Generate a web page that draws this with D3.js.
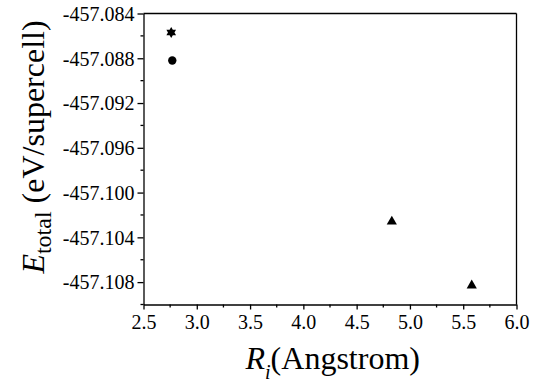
<!DOCTYPE html>
<meta charset="utf-8">
<script src="https://d3js.org/d3.v7.min.js"></script>
<body style="margin:0">
<script>
// data
var starR = [2.76], starE = [-457.0857];
var circleR = [2.77], circleE = [-457.0882];
var triR = [4.83, 5.58], triE = [-457.1026, -457.1083];

var xTicks = [2.5, 3.0, 3.5, 4.0, 4.5, 5.0, 5.5, 6.0];
var yTicks = [-457.084, -457.088, -457.092, -457.096, -457.100, -457.104, -457.108];

var FONT = "serif";

var W = 543, H = 390;
var margin = { top: 13.5, right: 26.5, bottom: 85.5, left: 143.5 },
    width = W - margin.left - margin.right,
    height = H - margin.top - margin.bottom;

var root = d3.select("body")
  .append("svg")
  .attr("width", W)
  .attr("height", H);

var svg = root.append("g")
  .attr("transform", "translate(" + margin.left + "," + margin.top + ")");

var x = d3.scaleLinear().domain([2.5, 6.0]).range([0, width]);
var y = d3.scaleLinear().domain([-457.110, -457.084]).range([height, 0]);

// one run of text at (px, py); returns its width
function run(parent, str, px, py, size, opts) {
  opts = opts || {};
  var t = parent.append("text")
    .attr("x", px)
    .attr("y", py)
    .style("font-family", FONT)
    .style("font-size", size + "px")
    .style("font-style", opts.italic ? "italic" : "normal")
    .attr("text-anchor", opts.anchor || "start")
    .attr("dy", opts.dy || 0)
    .attr("fill", "#000")
    .text(str);
  return t.node().getComputedTextLength();
}

// minor ticks
var xMinor = [2.75, 3.25, 3.75, 4.25, 4.75, 5.25, 5.75];
var yMinor = [-457.086, -457.090, -457.094, -457.098, -457.102, -457.106, -457.110];

svg.selectAll(".xminor").data(xMinor).enter().append("line")
  .attr("x1", function (d) { return x(d); }).attr("x2", function (d) { return x(d); })
  .attr("y1", height).attr("y2", height + 3)
  .attr("stroke", "#000").attr("stroke-width", 1.3);
svg.selectAll(".yminor").data(yMinor).enter().append("line")
  .attr("y1", function (d) { return y(d); }).attr("y2", function (d) { return y(d); })
  .attr("x1", 0).attr("x2", -3)
  .attr("stroke", "#000").attr("stroke-width", 1.3);

// major axes, labels drawn separately
var xAxis = svg.append("g")
  .attr("transform", "translate(0," + height + ")")
  .call(d3.axisBottom(x).tickValues(xTicks).tickSize(5).tickSizeOuter(0).tickFormat(""));
var yAxis = svg.append("g")
  .call(d3.axisLeft(y).tickValues(yTicks).tickSize(6).tickSizeOuter(0).tickFormat(""));
svg.selectAll(".domain, .tick line").attr("stroke", "#000").attr("stroke-width", 1.3);

xAxis.selectAll(".tick").each(function (d) {
  run(d3.select(this), d.toFixed(1), 0, 9, 20, { anchor: "middle", dy: "0.75em" });
});
yAxis.selectAll(".tick").each(function (d) {
  run(d3.select(this), d.toFixed(3), -9, 0, 20, { anchor: "end", dy: "0.34em" });
});

// frame top and right
svg.append("line").attr("x1", 0).attr("x2", width).attr("y1", 0).attr("y2", 0)
  .attr("stroke", "#000").attr("stroke-width", 1.3);
svg.append("line").attr("x1", width).attr("x2", width).attr("y1", 0).attr("y2", height)
  .attr("stroke", "#000").attr("stroke-width", 1.3);

// six point star symbol
var hexagram = {
  draw: function (ctx, size) {
    var r = Math.sqrt(size / 1.6);
    var ri = r * 0.58;
    for (var i = 0; i < 12; i++) {
      var a = -Math.PI / 2 + i * Math.PI / 6;
      var rr = i % 2 === 0 ? r : ri;
      if (i === 0) ctx.moveTo(rr * Math.cos(a), rr * Math.sin(a));
      else ctx.lineTo(rr * Math.cos(a), rr * Math.sin(a));
    }
    ctx.closePath();
  }
};

function plot(rs, es, type, size) {
  svg.append("g").selectAll("path")
    .data(rs.map(function (r, i) { return { r: r, e: es[i] }; }))
    .enter().append("path")
    .attr("transform", function (d) { return "translate(" + x(d.r) + "," + y(d.e) + ")"; })
    .attr("d", d3.symbol().type(type).size(size))
    .attr("fill", "#000");
}
plot(starR, starE, hexagram, 50);
plot(circleR, circleE, d3.symbolCircle, 55);
plot(triR, triE, d3.symbolTriangle, 45);

// x title: R_i (Angstrom)
var xt = svg.append("g").attr("transform", "translate(102," + (height + 64) + ")");
var cx = 0;
cx += run(xt, "R", cx, 0, 32, { italic: true });
cx += run(xt, "i", cx, 10, 20, { italic: true });
run(xt, "(Angstrom)", cx, 0, 32);

// y title: E_total (eV/supercell), rotated
var yt = svg.append("g")
  .attr("transform", "translate(-100," + (height / 2 - 12) + ") rotate(-90)");
var inner = yt.append("g");
var cy = 0;
cy += run(inner, "E", cy, 0, 32, { italic: true });
cy += run(inner, "total", cy, 7, 24);
cy += 8;
cy += run(inner, "(eV/supercell)", cy, 0, 32);
inner.attr("transform", "translate(" + (-cy / 2) + ",0)");
</script>
</body>
